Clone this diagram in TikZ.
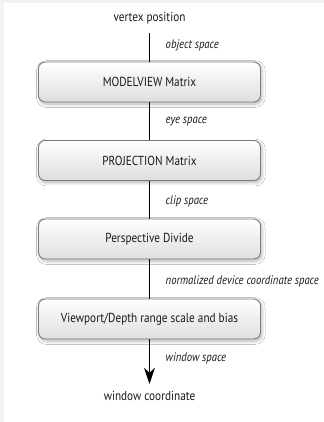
\documentclass[tikz,border=0pt]{standalone}
\usepackage{fontspec}
\setmainfont{PT Sans}[FakeStretch=0.86]
\usetikzlibrary{arrows.meta,shadows.blur}
\definecolor{framegray}{HTML}{F2F2F2}
\definecolor{boxedge}{HTML}{7A7A7A}
\definecolor{boxbottom}{HTML}{DEDEDE}
\definecolor{inkgray}{HTML}{1A1A1A}
\tikzset{
  stage/.style={draw=boxedge, line width=0.7pt, rounded corners=5pt,
    top color=white, bottom color=boxbottom, text=inkgray,
    minimum width=166.5pt, minimum height=30pt,
    font=\fontsize{9.8}{11}\selectfont,
    blur shadow={shadow xshift=1pt, shadow yshift=-1.5pt, shadow blur steps=8, shadow blur radius=2.5pt, shadow opacity=30}},
  endpoint/.style={font=\fontsize{9.8}{11}\selectfont, text=inkgray},
  spacelabel/.style={font=\fontsize{9.3}{11}\selectfont\itshape, anchor=west, text=inkgray},
  flow/.style={line width=1.1pt, black}
}
\begin{document}
\begin{tikzpicture}[x=0.75pt,y=-0.75pt]
  % page frame: light strip on the top and left
  \fill[white] (0,0) rectangle (324,422);
  \fill[framegray] (0,0) rectangle (324,3);
  \fill[framegray] (0,0) rectangle (4,422);
  \useasboundingbox (0,0) rectangle (324,422);

  \node[endpoint] (vp) at (149.5,18) {vertex position};
  \coordinate (vpb) at (149.5,33);
  \node[stage] (mv) at (149.5,82) {MODELVIEW Matrix};
  \node[stage] (pr) at (149.5,160.5) {PROJECTION Matrix};
  \node[stage] (pd) at (149.5,239) {Perspective Divide};
  \node[stage] (vd) at (149.5,319) {Viewport/Depth range scale and bias};
  \node[endpoint] (wc) at (149.5,396) {window coordinate};
  \coordinate (tip) at (149.5,384);

  \draw[flow] (vpb) -- (mv.north);
  \draw[flow] (mv.south) -- (pr.north);
  \draw[flow] (pr.south) -- (pd.north);
  \draw[flow] (pd.south) -- (vd.north);
  \draw[flow, -{Stealth[length=12pt, width=8pt, inset=3.5pt]}] (vd.south) -- (tip);

  \node[spacelabel] (l1) at (161,45) {object space};
  \node[spacelabel] (l2) at (161,122) {eye space};
  \node[spacelabel] (l3) at (161,201) {clip space};
  \node[spacelabel] (l4) at (161,281) {normalized device coordinate space};
  \node[spacelabel] (l5) at (161,358) {window space};
\end{tikzpicture}
\end{document}
